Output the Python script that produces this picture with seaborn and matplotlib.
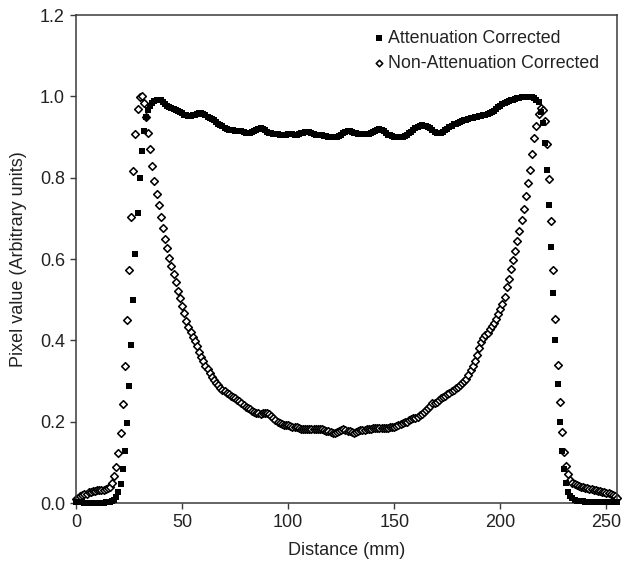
import numpy as np
import pandas as pd
import matplotlib
matplotlib.use("Agg")
import matplotlib.pyplot as plt
from matplotlib.ticker import FormatStrFormatter
import seaborn as sns

# Distance samples (mm), one per profile pixel
distance = list(range(256))

# Attenuation corrected profile (filled squares)
attenuation_corrected = [
    0.003, 0.002, 0.002, 0.002, 0.001, 0.001, 0.001, 0.001, 0.001, 0.001,
    0.001, 0.001, 0.001, 0.001, 0.002, 0.002, 0.003, 0.004, 0.007, 0.014,
    0.028, 0.047, 0.083, 0.129, 0.197, 0.288, 0.389, 0.500, 0.612, 0.712,
    0.800, 0.866, 0.915, 0.948, 0.966, 0.976, 0.983, 0.988, 0.990, 0.991,
    0.990, 0.986, 0.980, 0.976, 0.974, 0.972, 0.970, 0.967, 0.964, 0.962,
    0.958, 0.955, 0.953, 0.952, 0.952, 0.953, 0.955, 0.957, 0.958, 0.958,
    0.956, 0.953, 0.950, 0.947, 0.945, 0.941, 0.937, 0.933, 0.929, 0.926,
    0.922, 0.919, 0.917, 0.916, 0.916, 0.915, 0.915, 0.915, 0.914, 0.912,
    0.910, 0.909, 0.910, 0.912, 0.915, 0.918, 0.920, 0.921, 0.920, 0.917,
    0.913, 0.910, 0.909, 0.908, 0.907, 0.907, 0.906, 0.906, 0.906, 0.906,
    0.907, 0.907, 0.907, 0.906, 0.906, 0.908, 0.910, 0.911, 0.912, 0.912,
    0.912, 0.910, 0.908, 0.906, 0.905, 0.905, 0.904, 0.903, 0.902, 0.901,
    0.900, 0.899, 0.899, 0.900, 0.903, 0.906, 0.909, 0.912, 0.914, 0.914,
    0.913, 0.911, 0.909, 0.908, 0.908, 0.908, 0.908, 0.908, 0.908, 0.909,
    0.912, 0.915, 0.918, 0.919, 0.918, 0.914, 0.910, 0.906, 0.904, 0.902,
    0.901, 0.900, 0.900, 0.900, 0.901, 0.903, 0.906, 0.909, 0.912, 0.916,
    0.921, 0.925, 0.928, 0.929, 0.928, 0.926, 0.924, 0.921, 0.917, 0.913,
    0.911, 0.910, 0.911, 0.913, 0.916, 0.920, 0.924, 0.928, 0.931, 0.933,
    0.935, 0.937, 0.939, 0.941, 0.943, 0.945, 0.946, 0.947, 0.948, 0.950,
    0.951, 0.952, 0.953, 0.954, 0.956, 0.958, 0.961, 0.965, 0.969, 0.973,
    0.977, 0.980, 0.983, 0.986, 0.988, 0.990, 0.992, 0.994, 0.996, 0.997,
    0.998, 0.999, 0.999, 0.999, 0.999, 0.998, 0.996, 0.990, 0.985, 0.962,
    0.934, 0.886, 0.819, 0.733, 0.630, 0.517, 0.400, 0.293, 0.200, 0.129,
    0.083, 0.048, 0.028, 0.018, 0.012, 0.008, 0.006, 0.005, 0.004, 0.004,
    0.003, 0.003, 0.003, 0.003, 0.003, 0.002, 0.002, 0.002, 0.002, 0.002,
    0.002, 0.002, 0.002, 0.002, 0.002, 0.002,
]

# Non-attenuation corrected profile (open diamonds)
non_attenuation_corrected = [
    0.010, 0.013, 0.016, 0.019, 0.021, 0.023, 0.026, 0.028, 0.029, 0.030,
    0.031, 0.032, 0.032, 0.033, 0.034, 0.036, 0.040, 0.048, 0.066, 0.089,
    0.122, 0.172, 0.244, 0.337, 0.449, 0.574, 0.703, 0.817, 0.908, 0.968,
    0.998, 1.000, 0.983, 0.950, 0.911, 0.870, 0.829, 0.792, 0.761, 0.733,
    0.704, 0.675, 0.649, 0.626, 0.603, 0.583, 0.563, 0.544, 0.522, 0.503,
    0.484, 0.466, 0.448, 0.432, 0.420, 0.408, 0.398, 0.386, 0.372, 0.360,
    0.348, 0.338, 0.330, 0.320, 0.310, 0.302, 0.295, 0.289, 0.284, 0.279,
    0.275, 0.271, 0.267, 0.264, 0.261, 0.258, 0.254, 0.250, 0.245, 0.241,
    0.237, 0.233, 0.230, 0.227, 0.224, 0.222, 0.221, 0.220, 0.221, 0.222,
    0.222, 0.219, 0.213, 0.209, 0.205, 0.200, 0.197, 0.195, 0.193, 0.192,
    0.191, 0.190, 0.188, 0.187, 0.186, 0.184, 0.182, 0.181, 0.181, 0.181,
    0.181, 0.181, 0.181, 0.181, 0.181, 0.181, 0.181, 0.180, 0.178, 0.176,
    0.175, 0.173, 0.171, 0.174, 0.178, 0.180, 0.181, 0.180, 0.178, 0.176,
    0.174, 0.173, 0.175, 0.177, 0.179, 0.180, 0.180, 0.181, 0.182, 0.183,
    0.184, 0.184, 0.184, 0.184, 0.184, 0.184, 0.185, 0.185, 0.186, 0.187,
    0.188, 0.190, 0.192, 0.194, 0.196, 0.198, 0.200, 0.203, 0.206, 0.208,
    0.210, 0.212, 0.216, 0.220, 0.225, 0.229, 0.234, 0.239, 0.245, 0.247,
    0.249, 0.253, 0.257, 0.261, 0.264, 0.268, 0.271, 0.275, 0.279, 0.282,
    0.286, 0.290, 0.294, 0.299, 0.305, 0.315, 0.326, 0.336, 0.349, 0.364,
    0.381, 0.395, 0.405, 0.412, 0.418, 0.427, 0.436, 0.443, 0.452, 0.465,
    0.478, 0.490, 0.506, 0.530, 0.552, 0.575, 0.598, 0.620, 0.645, 0.668,
    0.695, 0.722, 0.755, 0.787, 0.820, 0.858, 0.897, 0.928, 0.956, 0.972,
    0.966, 0.940, 0.883, 0.797, 0.693, 0.573, 0.452, 0.339, 0.248, 0.175,
    0.126, 0.092, 0.071, 0.057, 0.050, 0.046, 0.044, 0.042, 0.040, 0.039,
    0.037, 0.036, 0.035, 0.034, 0.033, 0.031, 0.030, 0.029, 0.028, 0.027,
    0.025, 0.024, 0.022, 0.020, 0.017, 0.013,
]

x_ticks = [0, 50, 100, 150, 200, 250]
y_ticks = [0.0, 0.2, 0.4, 0.6, 0.8, 1.0, 1.2]

df = pd.DataFrame({
    "Distance (mm)": distance,
    "Attenuation Corrected": attenuation_corrected,
    "Non-Attenuation Corrected": non_attenuation_corrected,
})

sns.set_style("ticks")
plt.rcParams["font.family"] = ["Liberation Sans", "DejaVu Sans"]

fig = plt.figure(figsize=(6.29, 5.69), dpi=100)
ax = fig.add_axes([76 / 629, 66 / 569, 541 / 629, 488 / 569])

# squares drawn big enough to merge into a thick band on the plateau
sns.scatterplot(data=df, x="Distance (mm)", y="Attenuation Corrected", ax=ax,
                marker="s", s=22, color="black", linewidth=0,
                label="Attenuation Corrected", clip_on=False, zorder=3)
sns.scatterplot(data=df, x="Distance (mm)", y="Non-Attenuation Corrected", ax=ax,
                marker="D", s=15, facecolor="white", edgecolor="black",
                linewidth=1.15, label="Non-Attenuation Corrected",
                clip_on=False, zorder=2)

ax.set_xlim(0, 255)
ax.set_ylim(0, 1.2)
ax.set_xticks(x_ticks)
ax.set_yticks(y_ticks)
ax.yaxis.set_major_formatter(FormatStrFormatter("%.1f"))

for side in ["top", "right", "left", "bottom"]:
    ax.spines[side].set_visible(True)
    ax.spines[side].set_color("#3a3a3a")
    ax.spines[side].set_linewidth(1.1)

ax.tick_params(axis="both", direction="out", length=4, width=1.0,
               color="#3a3a3a", labelsize=13, labelcolor="#222222", pad=4)
ax.set_xlabel("Distance (mm)", fontsize=13, color="#222222", labelpad=8)
ax.set_ylabel("Pixel value (Arbitrary units)", fontsize=13, color="#222222", labelpad=9)

leg = ax.legend(loc="upper right", bbox_to_anchor=(0.995, 1.0), frameon=False,
                fontsize=12.8, handletextpad=0.05, handlelength=0.9,
                labelspacing=0.45, borderpad=0.35, markerscale=0.85)
for t in leg.get_texts():
    t.set_color("#222222")

fig.savefig("out.png", dpi=100)
